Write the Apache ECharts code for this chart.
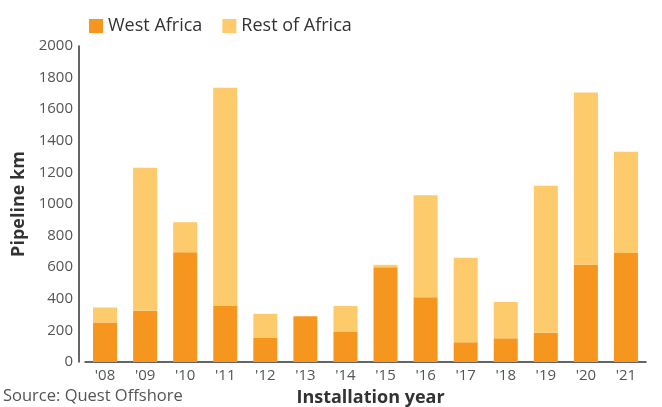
<!DOCTYPE html>
<html><head><meta charset="utf-8">
<script src="https://cdn.jsdelivr.net/npm/echarts@6/dist/echarts.min.js"></script>
<style>html,body{margin:0;padding:0;background:#fff}#c{width:662px;height:407px}</style>
</head><body><div id="c"></div>
<script>
var years = ["'08","'09","'10","'11","'12","'13","'14","'15","'16","'17","'18","'19","'20","'21"];
var westAfrica = [250, 325, 695, 355, 155, 290, 190, 600, 410, 125, 150, 185, 615, 690];
var restOfAfrica = [95, 905, 190, 1380, 150, 0, 165, 15, 645, 535, 230, 930, 1090, 640];
var yTicks = [0, 200, 400, 600, 800, 1000, 1200, 1400, 1600, 1800, 2000];

var FONT = '"Open Sans", sans-serif';
var chart = echarts.init(document.getElementById('c'), null, {renderer: 'canvas'});
chart.setOption({
  animation: false,
  backgroundColor: '#ffffff',
  textStyle: {fontFamily: FONT},
  legend: {
    left: 84, top: 12, itemWidth: 14, itemHeight: 14, itemGap: 20,
    icon: 'rect',
    textStyle: {fontSize: 18, color: '#333', fontFamily: FONT},
    data: ['West Africa', 'Rest of Africa']
  },
  grid: {left: 85, right: 16, top: 46, bottom: 45, outerBoundsMode: 'none', containLabel: false},
  xAxis: {
    type: 'category', data: years,
    axisLine: {lineStyle: {color: '#333', width: 1.5}},
    axisTick: {show: false},
    axisLabel: {fontSize: 15, color: '#555', margin: 6, fontFamily: FONT},
    name: 'Installation year', nameLocation: 'middle', nameGap: 27,
    nameTextStyle: {fontSize: 18, fontWeight: 'bold', color: '#333', fontFamily: FONT,
                    padding: [0, 0, 0, 10]}
  },
  yAxis: {
    type: 'value', min: yTicks[0], max: yTicks[yTicks.length - 1], interval: 200,
    offset: 6,
    axisLine: {show: true, lineStyle: {color: '#333', width: 1.5}},
    axisTick: {show: false},
    splitLine: {show: false},
    axisLabel: {fontSize: 15, color: '#555', margin: 6, fontFamily: FONT,
                formatter: function (v) { return String(v); }},
    name: 'Pipeline km', nameLocation: 'middle', nameGap: 44, nameRotate: 90,
    nameTextStyle: {fontSize: 18, fontWeight: 'bold', color: '#333', fontFamily: FONT}
  },
  series: [
    {name: 'West Africa', type: 'bar', stack: 'a', data: westAfrica, barWidth: 24,
     itemStyle: {color: '#F7961F'}},
    {name: 'Rest of Africa', type: 'bar', stack: 'a', data: restOfAfrica, barWidth: 24,
     itemStyle: {color: '#FDCA6C'}}
  ],
  graphic: [
    {type: 'text', left: 3, top: 388,
     style: {text: 'Source: Quest Offshore', fontSize: 16.5, fill: '#555', fontFamily: FONT}}
  ]
});
</script></body></html>
